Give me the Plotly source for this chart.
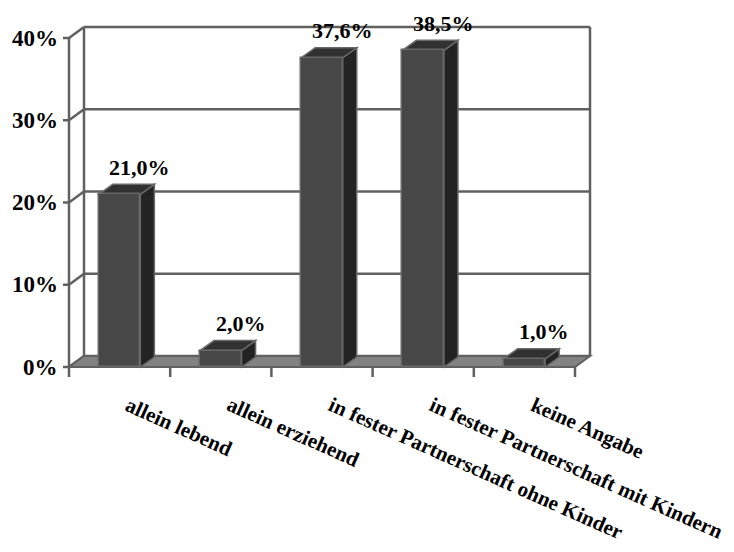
import plotly.graph_objects as go

# Data
categories = [
    "allein lebend",
    "allein erziehend",
    "in fester Partnerschaft ohne Kinder",
    "in fester Partnerschaft mit Kindern",
    "keine Angabe",
]
shares = [21.0, 2.0, 37.6, 38.5, 1.0]
y_ticks = [0, 10, 20, 30, 40]

# Layout geometry (pixels)
W, H = 734, 552
PX_X = 101.2      # pixels per category
PX_Y = 8.225      # pixels per percent
M_L, M_R, M_T, M_B = 60, 134, 20, 172
plot_w = W - M_L - M_R
plot_h = H - M_T - M_B
x_lo = -0.5 - 9 / PX_X
x_hi = x_lo + plot_w / PX_X
y_lo = -13 / PX_Y
y_hi = y_lo + plot_h / PX_Y

# depth of the 3D box (wall) and of the bars, in data units
DX, DY = 15 / PX_X, 11 / PX_Y
BDX, BDY = 14 / PX_X, 10 / PX_Y
BAR_W = 0.41

FONT = "Liberation Serif"
LINE = "#606060"
FRONT = "#474747"
SIDE = "#232323"
TOP = "#313131"
EDGE = "#686868"
FLOOR = "#828282"

x_left, x_right = -0.5, len(categories) - 0.5

shapes = []


def line(x0, y0, x1, y1, width=2.5, color=LINE):
    shapes.append(dict(type="line", xref="x", yref="y", x0=x0, y0=y0, x1=x1, y1=y1,
                       line=dict(color=color, width=width), layer="below"))


# back wall and side wall lines
for v in y_ticks:
    line(x_left + DX, v + DY, x_right + DX, v + DY)
    line(x_left, v, x_left + DX, v + DY)
line(x_left + DX, DY, x_left + DX, y_ticks[-1] + DY)
line(x_right + DX, DY, x_right + DX, y_ticks[-1] + DY)
# front value axis
line(x_left, 0, x_left, y_ticks[-1])
for v in y_ticks:
    line(x_left - 6 / PX_X, v, x_left, v)

# floor
shapes.append(dict(
    type="path", xref="x", yref="y", layer="below",
    path=f"M {x_left},0 L {x_right},0 L {x_right + DX},{DY} L {x_left + DX},{DY} Z",
    fillcolor=FLOOR, line=dict(color=LINE, width=2)))

# category boundary ticks under the floor
for k in range(len(categories) + 1):
    bx = x_left + k
    line(bx, 0, bx, -10 / PX_Y)

# side and top faces of the bars
for i, v in enumerate(shares):
    xl, xr = i - BAR_W / 2, i + BAR_W / 2
    shapes.append(dict(
        type="path", xref="x", yref="y", layer="below",
        path=f"M {xr},0 L {xr + BDX},{BDY} L {xr + BDX},{v + BDY} L {xr},{v} Z",
        fillcolor=SIDE, line=dict(color=EDGE, width=1.5)))
    shapes.append(dict(
        type="path", xref="x", yref="y", layer="below",
        path=f"M {xl},{v} L {xr},{v} L {xr + BDX},{v + BDY} L {xl + BDX},{v + BDY} Z",
        fillcolor=TOP, line=dict(color=EDGE, width=1.5)))

fig = go.Figure()
fig.add_trace(go.Bar(
    x=list(range(len(categories))), y=shares, width=BAR_W,
    marker=dict(color=FRONT, line=dict(color=EDGE, width=1.5)),
    hoverinfo="skip",
))

annotations = []
# value labels
for i, v in enumerate(shares):
    annotations.append(dict(
        x=i, y=v, xref="x", yref="y", showarrow=False,
        text=f"{v:.1f}".replace(".", ",") + "%",
        xshift=20, yshift=27,
        font=dict(family=FONT, size=22, color="black", weight="bold")))
# value-axis tick labels
for v in y_ticks:
    annotations.append(dict(
        x=x_left, y=v, xref="x", yref="y", showarrow=False,
        text=f"{v}%", xanchor="right", xshift=-9,
        font=dict(family=FONT, size=23, color="black", weight="bold")))
# rotated category labels
for i, c in enumerate(categories):
    annotations.append(dict(
        x=i, y=0, xref="x", yref="y", showarrow=False,
        text=c, textangle=24, xanchor="left", yanchor="top",
        xshift=0, yshift=-23,
        font=dict(family=FONT, size=21, color="black", weight="bold")))

fig.update_layout(
    width=W, height=H,
    margin=dict(l=M_L, r=M_R, t=M_T, b=M_B),
    paper_bgcolor="white", plot_bgcolor="white",
    showlegend=False,
    shapes=shapes,
    annotations=annotations,
    xaxis=dict(range=[x_lo, x_hi], visible=False, fixedrange=True),
    yaxis=dict(range=[y_lo, y_hi], visible=False, fixedrange=True),
    bargap=0,
)

fig.write_html("out.html")
